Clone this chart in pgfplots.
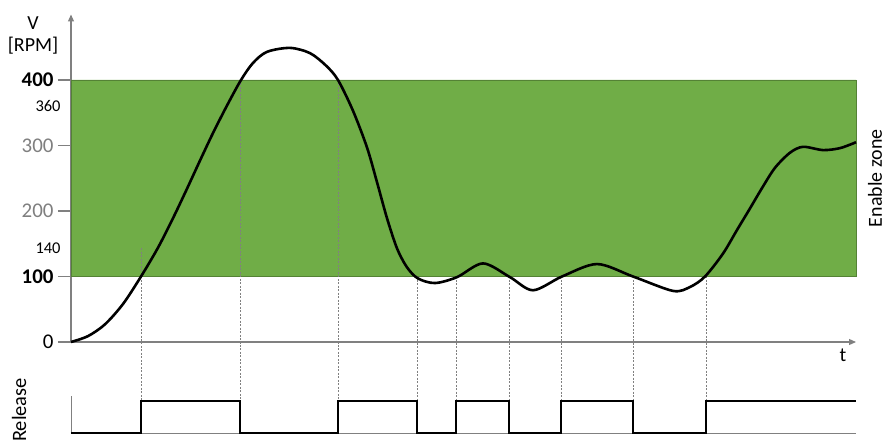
\documentclass[border=0pt]{standalone}
\usepackage{pgfplots}
\pgfplotsset{compat=1.18}
\usepackage{fontspec}
\setmainfont{Carlito}
\usetikzlibrary{arrows.meta}
\definecolor{zone}{HTML}{70AD47}
\definecolor{zoneedge}{HTML}{548235}
\definecolor{axgray}{HTML}{808080}
\definecolor{ticklab}{HTML}{7F7F7F}
\begin{document}
\begin{tikzpicture}
\begin{axis}[
  name=main,
  scale only axis, width=785bp, height=327.5bp,
  at={(0,0)}, anchor=south west,
  xmin=71, xmax=856, ymin=0, ymax=500,
  enlargelimits=false,
  axis lines*=left,
  axis line style={axgray, line width=1.2pt, -{Triangle[length=7pt,width=6pt]}},
  clip=false,
  xtick=\empty,
  ytick={0,100,200,300,400},
  yticklabels={0,\textbf{100},\textcolor{ticklab}{200},\textcolor{ticklab}{300},\textbf{400}},
  tick style={axgray, line width=1.2pt},
  major tick length=13bp,
  tick align=outside,
  yticklabel style={font=\fontsize{21}{24}\selectfont, xshift=-1bp},
  /pgf/number format/assume math mode=true,
]
% enable zone
\addplot[fill=zone, draw=zoneedge, line width=0.6pt] coordinates {(71,100)(856,100)(856,400)(71,400)(71,100)};
% dashed guide lines
\addplot[axgray, line width=0.5pt, dash pattern=on 2pt off 1.5pt] coordinates {(141,143)(141,-90)};
\addplot[axgray, line width=0.5pt, dash pattern=on 2pt off 1.5pt] coordinates {(240,400)(240,-90)};
\addplot[axgray, line width=0.5pt, dash pattern=on 2pt off 1.5pt] coordinates {(338,400)(338,-90)};
\addplot[axgray, line width=0.5pt, dash pattern=on 2pt off 1.5pt] coordinates {(417,100)(417,-90)};
\addplot[axgray, line width=0.5pt, dash pattern=on 2pt off 1.5pt] coordinates {(456,100)(456,-90)};
\addplot[axgray, line width=0.5pt, dash pattern=on 2pt off 1.5pt] coordinates {(509,100)(509,-90)};
\addplot[axgray, line width=0.5pt, dash pattern=on 2pt off 1.5pt] coordinates {(561,100)(561,-90)};
\addplot[axgray, line width=0.5pt, dash pattern=on 2pt off 1.5pt] coordinates {(633,100)(633,-90)};
\addplot[axgray, line width=0.5pt, dash pattern=on 2pt off 1.5pt] coordinates {(706,100)(706,-90)};
% speed curve
\addplot[black, line width=2.6bp, smooth, tension=0.5] coordinates {
(71,0)(88,9)(105,27)(123,58)(141,100)(158,144)(173,189)(187,234)(200,277)(213,319)
(227,361)(241,400)(253,426)(267,443)(290,449)(310,441)(326,422)(338,400)(353,353)
(367,297)(377,244)(387,189)(397,143)(407,114)(418,97)(435,90)(457,99)(483,120)
(510,99)(533,79)(562,100)(597,119)(633,100)(673,78)(690,84)(705,100)(723,135)(737,171)
(750,204)(762,235)(775,266)(790,289)(803,298)(823,293)(840,296)(856,305)};
% labels
\node[font=\fontsize{16.5}{19}\selectfont] at (axis cs:48,360) {360};
\node[font=\fontsize{16.5}{19}\selectfont] at (axis cs:48,143) {140};
\node[font=\fontsize{20}{24}\selectfont, align=center] at (axis cs:33,468) {V\\[-1pt][RPM]};
\node[font=\fontsize{20}{22}\selectfont] at (axis cs:843,-20) {t};
\node[font=\fontsize{20}{22}\selectfont, rotate=90] at (axis cs:875,250) {Enable zone};
\end{axis}
\begin{axis}[
  name=rel,
  scale only axis, width=785bp, height=37bp,
  at={(0,-91bp)}, anchor=south west,
  xmin=71, xmax=856, ymin=0, ymax=1.156,
  enlargelimits=false,
  axis lines*=left,
  axis line style={axgray, line width=1pt},
  clip=false,
  xtick=\empty, ytick=\empty,
]
\addplot[const plot, black, line width=2.4bp] coordinates {(71,0)(141,1)(240,0)(338,1)(417,0)(456,1)(509,0)(561,1)(633,0)(706,1)(856,1)};
\node[font=\fontsize{20.5}{22}\selectfont, rotate=90] at (axis cs:19,0.72) {Release};
\end{axis}
\pgfresetboundingbox
\path (-71bp,-103bp) rectangle (815bp,342bp);
\end{tikzpicture}
\end{document}
